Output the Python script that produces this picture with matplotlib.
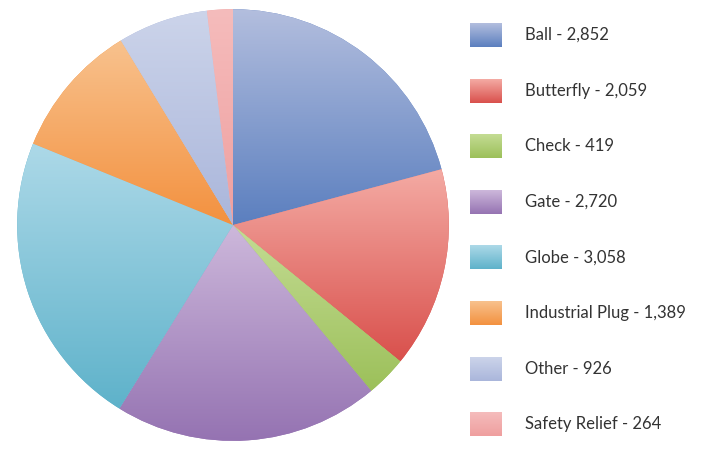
import numpy as np
import matplotlib.pyplot as plt
from matplotlib.colors import LinearSegmentedColormap

categorias = ["Ball", "Butterfly", "Check", "Gate", "Globe",
              "Industrial Plug", "Other", "Safety Relief"]
valores = [2852, 2059, 419, 2720, 3058, 1389, 926, 264]

# top / bottom colours of each slice gradient
claros = ["#b3bede", "#f4aba4", "#c4dc94", "#cdb8db", "#add9e8",
          "#f8c28e", "#ccd4ea", "#f5bcbc"]
oscuros = ["#5b7fbf", "#d9504c", "#9cc05a", "#9573b2", "#5eb2ca",
           "#f3913f", "#aab6db", "#ef9f9f"]


def gradiente(ax, c_top, c_bot, extent, clip=None):
    cmap = LinearSegmentedColormap.from_list("g", [c_bot, c_top])
    grad = np.linspace(0, 1, 256).reshape(-1, 1)
    im = ax.imshow(grad, cmap=cmap, extent=extent, origin="lower",
                   aspect="auto", zorder=2, interpolation="bilinear")
    if clip is not None:
        im.set_clip_path(clip)
    return im


def generar_grafico():
    fig = plt.figure(figsize=(7.1, 4.5), dpi=100)
    fig.patch.set_facecolor("white")
    plt.rcParams["font.family"] = ["Lato", "DejaVu Sans"]

    cx, cy, r = 233, 225, 218
    ax = fig.add_axes([(cx - r) / 710, (450 - cy - r) / 450, 2 * r / 710, 2 * r / 450])
    wedges, _ = ax.pie(valores, colors=oscuros, startangle=90, counterclock=False,
                       radius=1, wedgeprops=dict(linewidth=0))
    for w, ct, cb in zip(wedges, claros, oscuros):
        ext = w.get_path().get_extents()
        gradiente(ax, ct, cb, [ext.x0, ext.x1, ext.y0, ext.y1], clip=w)
        w.set_zorder(1)
    ax.set_xlim(-1.01, 1.01)
    ax.set_ylim(-1.01, 1.01)
    ax.set_aspect("equal")
    ax.axis("off")

    # legend (y axis points down here)
    lax = fig.add_axes([0, 0, 1, 1])
    for i, (cat, v) in enumerate(zip(categorias, valores)):
        y = 35 + i * 55.6
        gradiente(lax, claros[i], oscuros[i], [470, 502, y + 12, y - 12])
        lax.text(525, y, f"{cat} - {v:,}", fontsize=12, color="#333333",
                 va="center", ha="left")
    lax.set_xlim(0, 710)
    lax.set_ylim(450, 0)
    lax.axis("off")

    fig.savefig("out.png", dpi=100)


if __name__ == "__main__":
    generar_grafico()
